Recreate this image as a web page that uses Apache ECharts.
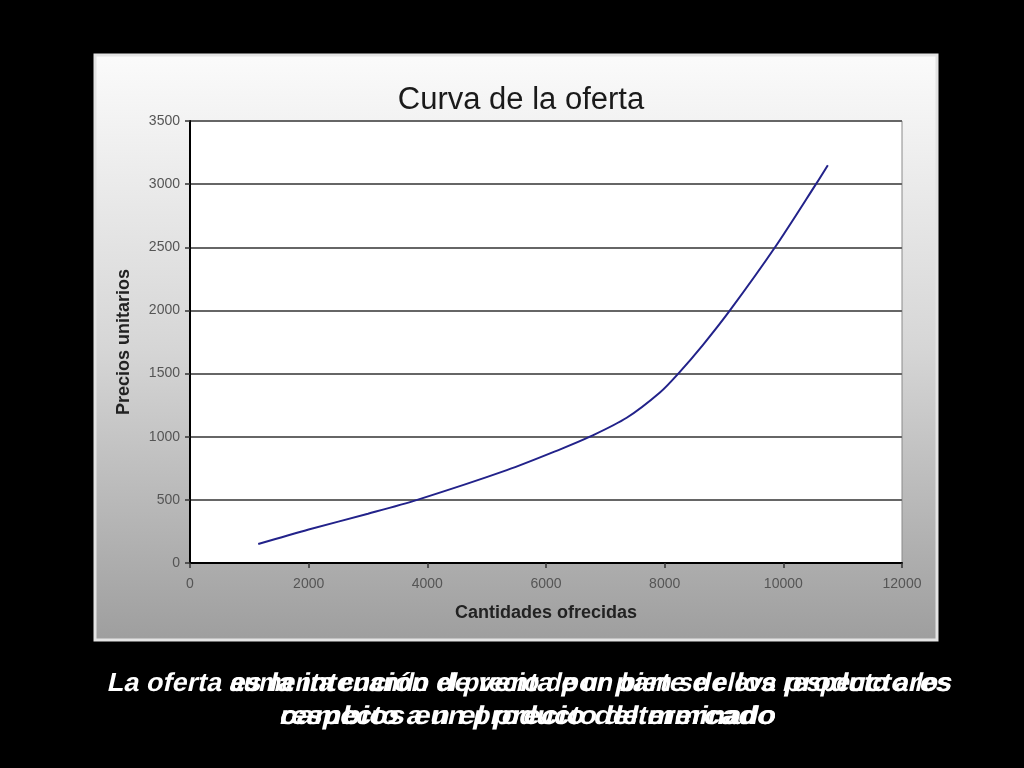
<!DOCTYPE html>
<html>
<head>
<meta charset="utf-8">
<script src="https://cdn.jsdelivr.net/npm/echarts@6/dist/echarts.min.js"></script>
<style>
html,body{margin:0;padding:0;background:#000;}
#chart{width:1024px;height:768px;}
</style>
</head>
<body>
<div id="chart"></div>
<script>
// ---- data ----
var title = 'Curva de la oferta';
var xAxisName = 'Cantidades ofrecidas';
var yAxisName = 'Precios unitarios';
var quantities = [1150, 2000, 3000, 3830, 5340, 6240, 6740, 7360, 7920, 8230, 8650, 9100, 9860, 10550, 10750];
var prices     = [150, 265, 390, 500, 735, 900, 1000, 1150, 1350, 1500, 1730, 2000, 2500, 3000, 3150];
var captionPrefix = 'La oferta ';
var captionA = ['es la intención de venta por parte de los productores', 'respecto a un producto determinado'];
var captionB = ['aumenta cuando el precio de un bien se eleva respecto a los', 'cambios en el precio del mercado'];

var points = quantities.map(function (q, i) { return [q, prices[i]]; });

var FONT = '"Liberation Sans", Arial, sans-serif';
var capFont = 'bold 26px "Liberation Sans", Arial, sans-serif';
var cv = document.createElement('canvas').getContext('2d');
cv.font = capFont;
function textW(t) { return cv.measureText(t).width; }
function capEl(txt, x, y, scale) {
  return {
    type: 'text', x: x, y: y, scaleX: scale, skewX: -0.22, z: 10,
    style: { text: txt, font: capFont, fill: '#ffffff', align: 'left', verticalAlign: 'middle' }
  };
}
var L1x = 108, L1r = 952, L2x = 280, L2r = 776;
var pScale = 122 / textW(captionPrefix);
var pW = 122;
var capEls = [
  capEl(captionPrefix, L1x, 684, pScale),
  capEl(captionA[0], L1x + pW, 684, (L1r - L1x - pW) / textW(captionA[0])),
  capEl(captionB[0], L1x + pW, 684, (L1r - L1x - pW) / textW(captionB[0])),
  capEl(captionA[1], L2x, 717, (L2r - L2x) / textW(captionA[1])),
  capEl(captionB[1], L2x, 717, (L2r - L2x) / textW(captionB[1]))
];

var chart = echarts.init(document.getElementById('chart'));
chart.setOption({
  backgroundColor: '#000',
  animation: false,
  title: {
    text: title, left: 516, top: 80, textAlign: 'center',
    textStyle: { fontFamily: FONT, fontSize: 31, fontWeight: 'normal', color: '#1a1a1a' }
  },
  grid: {
    left: 190, right: 122, top: 121, bottom: 205,
    show: true, backgroundColor: '#ffffff', borderColor: '#8a8a8a', borderWidth: 1
  },
  graphic: [
    { type: 'rect', shape: { x: 95, y: 55, width: 842, height: 585 }, z: -10,
      style: { fill: new echarts.graphic.LinearGradient(0, 0, 0, 1, [
        { offset: 0, color: '#fbfbfb' }, { offset: 0.5, color: '#d6d6d6' }, { offset: 1, color: '#9e9e9e' }]),
        stroke: '#e4e4e4', lineWidth: 3 } }
  ].concat(capEls),
  xAxis: {
    type: 'value', min: 0, max: 12000, interval: 2000, z: 3,
    name: xAxisName, nameLocation: 'middle', nameGap: 41,
    nameTextStyle: { fontFamily: FONT, fontSize: 18, fontWeight: 'bold', color: '#222' },
    axisLine: { show: true, onZero: false, lineStyle: { color: '#000', width: 2 } },
    axisTick: { show: true, length: 5, lineStyle: { color: '#333', width: 1.5 } },
    axisLabel: { margin: 14, fontFamily: FONT, fontSize: 14, color: '#555', formatter: function (v) { return String(v); } },
    splitLine: { show: false }
  },
  yAxis: {
    type: 'value', min: 0, max: 3500, interval: 500, z: 3,
    name: yAxisName, nameLocation: 'middle', nameGap: 57, nameRotate: 90,
    nameTextStyle: { fontFamily: FONT, fontSize: 18, fontWeight: 'bold', color: '#222' },
    axisLine: { show: true, lineStyle: { color: '#000', width: 2 } },
    axisTick: { show: true, length: 5, lineStyle: { color: '#333', width: 1.5 } },
    axisLabel: { margin: 10, fontFamily: FONT, fontSize: 14, color: '#555', formatter: function (v) { return String(v); } },
    splitLine: { show: true, lineStyle: { color: '#666', width: 2 } }
  },
  series: [{
    type: 'line', data: points, smooth: 0.3, showSymbol: false, symbol: 'none',
    lineStyle: { color: '#22228a', width: 2 }, z: 5
  }]
});
</script>
</body>
</html>
